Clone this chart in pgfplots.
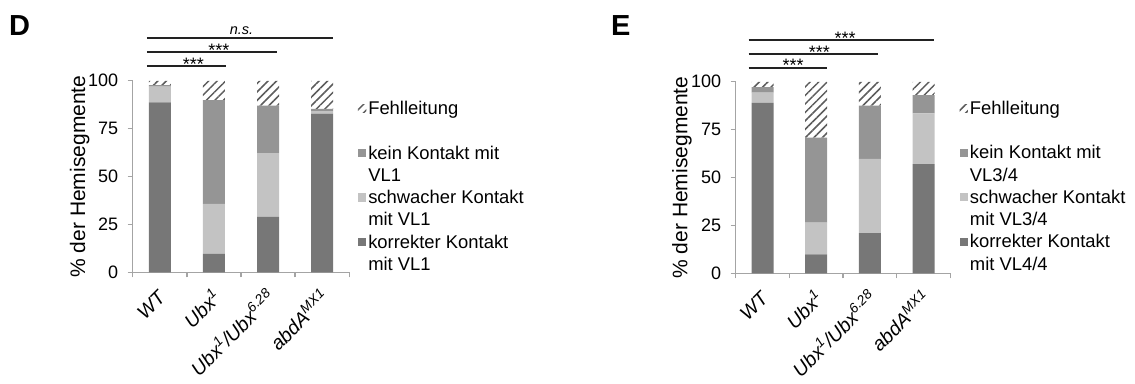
\documentclass[border=0pt]{standalone}
\usepackage{fontspec}
\setmainfont{Liberation Sans}
\usepackage{pgfplots}
\pgfplotsset{compat=1.18}
\usetikzlibrary{patterns.meta}

\definecolor{korrekt}{HTML}{777777}
\definecolor{kein}{HTML}{959595}
\definecolor{schwach}{HTML}{C3C3C3}
\definecolor{achse}{HTML}{A4A4A4}
\definecolor{schraff}{HTML}{5C5C5C}
\definecolor{sig}{HTML}{222222}

% genotype labels under the bars
\newcommand{\geno}[1]{\fontsize{19.5}{22}\selectfont\textit{#1}}

\tikzset{
  stern/.style={anchor=base, inner sep=0pt, font=\fontsize{18}{18}\selectfont},
}

\pgfplotsset{
  hemi/.style={
    scale only axis, height=191.5pt,
    ybar stacked, bar width=22pt,
    xmin=0.5, xmax=4.5, ymin=0, ymax=100,
    axis x line*=bottom, axis y line*=left,
    axis line style={achse, line width=1.4pt},
    tick style={achse, line width=1.4pt},
    tick align=outside, major tick length=5pt,
    ytick={0,25,50,75,100},
    xtick={0.5,1.5,2.5,3.5,4.5}, xticklabels={},
    extra x ticks={1,2,3,4},
    extra x tick style={major tick length=0pt},
    extra x tick labels={\geno{WT},
      \geno{Ubx\textsuperscript{1}},
      \geno{Ubx\textsuperscript{1}/Ubx\textsuperscript{6.28}},
      \geno{abdA\textsuperscript{MX1}}},
    /pgf/number format/assume math mode=true,
    yticklabel style={font=\fontsize{18}{21}\selectfont, inner sep=0pt, xshift=-9.4pt},
    xticklabel style={font=\fontsize{19.5}{22}\selectfont, inner sep=0pt,
      xshift=3pt, yshift=-21pt, rotate=45, anchor=east},
    ylabel style={font=\fontsize{21}{24}\selectfont},
    ylabel={\% der Hemisegmente},
    clip=false,
    every axis plot/.append style={draw=none,
      legend image code/.code={\path[##1,draw=none] (0pt,2pt) rectangle (8.3pt,10.3pt);}},
    reverse legend,
    legend style={draw=none, fill=none, inner sep=0pt, outer sep=0pt,
      anchor=north west, column sep=2pt, row sep=0pt,
      nodes={font=\fontsize{18.4}{21.5}\selectfont, inner sep=0pt,
        text height=15pt, text depth=7.25pt},
      cells={anchor=base west}},
  },
  fehl/.style={pattern={Lines[angle=45,distance=6pt,line width=1.5pt]}, pattern color=schraff},
}

\begin{document}
\begin{tikzpicture}
\path[use as bounding box] (0pt,0pt) rectangle (1135pt,383pt);

\node[anchor=base west, inner sep=0pt, font=\fontsize{29}{29}\selectfont\bfseries] at (9pt,347pt) {D};
\node[anchor=base west, inner sep=0pt, font=\fontsize{29}{29}\selectfont\bfseries] at (611pt,347pt) {E};

% Panel D: VL1
\begin{axis}[hemi, width=216.6pt, at={(132.7pt,110.7pt)}, anchor=south west,
  ylabel style={at={(axis description cs:-0.245,0.5)}, anchor=center},
  legend style={at={(axis description cs:1.040,0.902)}}]
\addlegendimage{empty legend}\addlegendentry{mit VL1}
\addplot[fill=korrekt] coordinates {(1,88.7) (2,9.6) (3,28.9) (4,82.9)};
\addlegendentry{korrekter Kontakt}
\addlegendimage{empty legend}\addlegendentry{mit VL1}
\addplot[fill=schwach] coordinates {(1,8.3) (2,26.1) (3,33.3) (4,1.2)};
\addlegendentry{schwacher Kontakt}
\addlegendimage{empty legend}\addlegendentry{VL1}
\addplot[fill=kein] coordinates {(1,0.7) (2,54.2) (3,24.9) (4,1.2)};
\addlegendentry{kein Kontakt mit}
\addlegendimage{empty legend}\addlegendentry{\strut}
\addplot[fehl] coordinates {(1,2.3) (2,10.1) (3,12.9) (4,14.7)};
\addlegendentry{Fehlleitung}

% significance brackets
\draw[sig, line width=1.8pt] (axis cs:0.76,107.7) -- (axis cs:2.22,107.7);
\draw[sig, line width=1.8pt] (axis cs:0.76,115.0) -- (axis cs:3.16,115.0);
\draw[sig, line width=1.8pt] (axis cs:0.76,122.3) -- (axis cs:4.19,122.3);
\node[stern] at (axis cs:1.62,105.6) {***};
\node[stern] at (axis cs:2.09,112.6) {***};
\node[stern, font=\fontsize{14.5}{14.5}\selectfont\itshape] at (axis cs:2.51,124.2) {n.s.};
\end{axis}

% Panel E: VL3/4 and VL4/4
\begin{axis}[hemi, width=214.7pt, at={(735.7pt,109.7pt)}, anchor=south west,
  ylabel style={at={(axis description cs:-0.25,0.5)}, anchor=center},
  legend style={at={(axis description cs:1.043,0.908)}}]
\addlegendimage{empty legend}\addlegendentry{mit VL4/4}
\addplot[fill=korrekt] coordinates {(1,89.0) (2,9.9) (3,21.0) (4,57.0)};
\addlegendentry{korrekter Kontakt}
\addlegendimage{empty legend}\addlegendentry{mit VL3/4}
\addplot[fill=schwach] coordinates {(1,5.3) (2,16.5) (3,38.8) (4,26.5)};
\addlegendentry{schwacher Kontakt}
\addlegendimage{empty legend}\addlegendentry{VL3/4}
\addplot[fill=kein] coordinates {(1,2.9) (2,44.4) (3,27.7) (4,9.5)};
\addlegendentry{kein Kontakt mit}
\addlegendimage{empty legend}\addlegendentry{\strut}
\addplot[fehl] coordinates {(1,2.8) (2,29.2) (3,12.5) (4,7.0)};
\addlegendentry{Fehlleitung}

% significance brackets
\draw[sig, line width=1.8pt] (axis cs:0.74,107.3) -- (axis cs:2.21,107.3);
\draw[sig, line width=1.8pt] (axis cs:0.74,114.5) -- (axis cs:3.16,114.5);
\draw[sig, line width=1.8pt] (axis cs:0.74,121.8) -- (axis cs:4.20,121.8);
\node[stern] at (axis cs:1.57,105.2) {***};
\node[stern] at (axis cs:2.06,112.3) {***};
\node[stern] at (axis cs:2.54,119.6) {***};
\end{axis}
\end{tikzpicture}
\end{document}
